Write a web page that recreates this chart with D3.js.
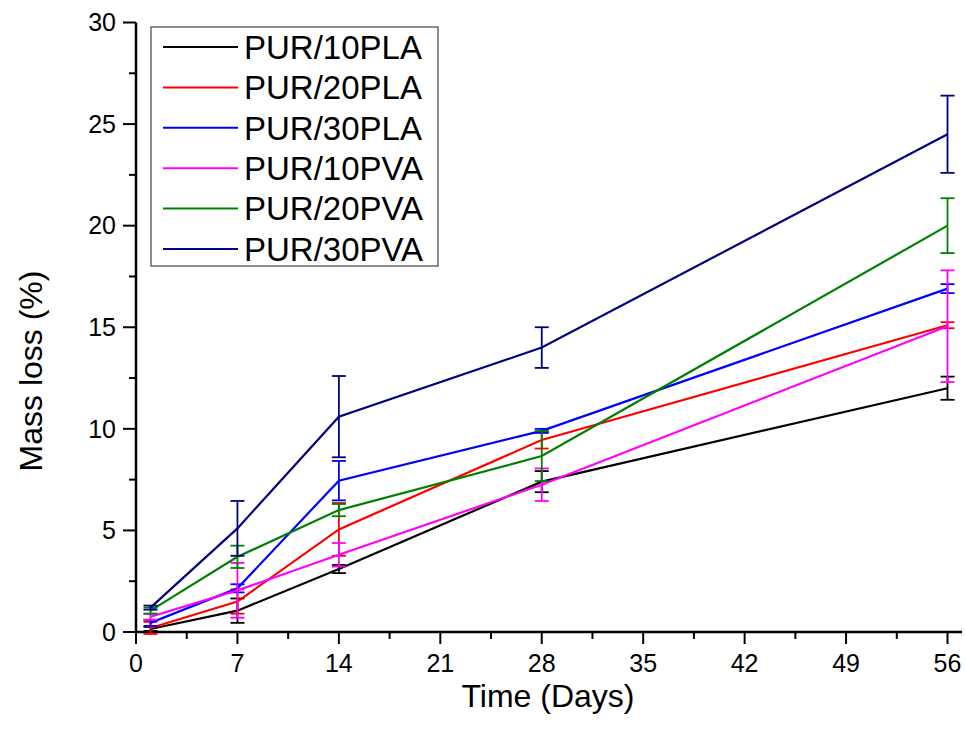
<!DOCTYPE html>
<html>
<head>
<meta charset="utf-8">
<script src="https://cdn.jsdelivr.net/npm/d3@7"></script>
<style>
  html, body { margin: 0; padding: 0; background: #fff; }
  svg { display: block; font-family: "Liberation Sans", Arial, sans-serif; }
</style>
</head>
<body>
<svg id="chart" width="965" height="736"></svg>
<script>
// Sampling days
const days = [1, 7, 14, 28, 56];

// Series names and colours
const seriesNames = ["PUR/10PLA", "PUR/20PLA", "PUR/30PLA", "PUR/10PVA", "PUR/20PVA", "PUR/30PVA"];
const seriesColors = ["#000000", "#ff0000", "#0000ff", "#ff00ff", "#008000", "#000080"];

// Mean mass loss (%) per series
const pur10pla = [0.15, 1.05, 3.1, 7.4, 12.0];
const pur20pla = [0.2, 1.5, 5.05, 9.45, 15.1];
const pur30pla = [0.45, 2.15, 7.45, 9.9, 16.9];
const pur10pva = [0.75, 2.05, 3.8, 7.25, 15.05];
const pur20pva = [1.05, 3.7, 6.0, 8.66, 20.0];
const pur30pva = [1.2, 5.1, 10.6, 14.0, 24.5];

// Standard deviations
const pur10plaErr = [0.1, 0.6, 0.2, 0.52, 0.57];
const pur20plaErr = [0.3, 0.6, 1.3, 0.42, 0.15];
const pur30plaErr = [0.15, 0.2, 0.97, 0.1, 0.22];
const pur10pvaErr = [0.15, 1.35, 0.58, 0.8, 2.75];
const pur20pvaErr = [0.15, 0.55, 0.3, 1.23, 1.35];
const pur30pvaErr = [0.1, 1.35, 2.0, 1.0, 1.9];

// Axis ticks
const xTicks = [0, 7, 14, 21, 28, 35, 42, 49, 56];
const yTicks = [0, 5, 10, 15, 20, 25, 30];

const means = [pur10pla, pur20pla, pur30pla, pur10pva, pur20pva, pur30pva];
const errs = [pur10plaErr, pur20plaErr, pur30plaErr, pur10pvaErr, pur20pvaErr, pur30pvaErr];

const series = seriesNames.map((name, i) => ({
  name,
  color: seriesColors[i],
  points: days.map((d, j) => ({ day: d, v: means[i][j], e: errs[i][j] }))
}));

const svg = d3.select("#chart");
const plotLeft = 136, plotRight = 962, plotTop = 22.5, plotBottom = 632;

const x = d3.scaleLinear().domain([0, 57]).range([plotLeft, plotRight]);
const y = d3.scaleLinear().domain([0, 30]).range([plotBottom, plotTop]);

// Axes (major + minor ticks)
const axisG = svg.append("g");

const xAxis = axisG.append("g").attr("transform", `translate(0,${plotBottom})`);
xAxis.append("line").attr("x1", plotLeft - 1).attr("x2", plotRight).attr("stroke", "#000").attr("stroke-width", 2.5);
const xMinor = d3.range(3.5, 57, 7);
xAxis.selectAll(".xminor").data(xMinor).join("line")
  .attr("x1", d => x(d)).attr("x2", d => x(d)).attr("y1", 0).attr("y2", 7)
  .attr("stroke", "#000").attr("stroke-width", 2);
xAxis.selectAll(".xmajor").data(xTicks).join("line")
  .attr("x1", d => x(d)).attr("x2", d => x(d)).attr("y1", 0).attr("y2", 12)
  .attr("stroke", "#000").attr("stroke-width", 2);
xAxis.selectAll(".xlab").data(xTicks).join("text")
  .attr("x", d => x(d)).attr("y", 40).attr("text-anchor", "middle")
  .attr("font-size", 25).text(d => d);

const yAxis = axisG.append("g").attr("transform", `translate(${plotLeft},0)`);
yAxis.append("line").attr("y1", plotTop).attr("y2", plotBottom + 1).attr("stroke", "#000").attr("stroke-width", 2.5);
const yMinor = d3.range(2.5, 30, 5);
yAxis.selectAll(".yminor").data(yMinor).join("line")
  .attr("x1", -7).attr("x2", 0).attr("y1", d => y(d)).attr("y2", d => y(d))
  .attr("stroke", "#000").attr("stroke-width", 2);
yAxis.selectAll(".ymajor").data(yTicks).join("line")
  .attr("x1", -13).attr("x2", 0).attr("y1", d => y(d)).attr("y2", d => y(d))
  .attr("stroke", "#000").attr("stroke-width", 2);
yAxis.selectAll(".ylab").data(yTicks).join("text")
  .attr("x", -20).attr("y", d => y(d)).attr("dy", "0.35em").attr("text-anchor", "end")
  .attr("font-size", 25).text(d => d);

// Axis titles
svg.append("text").attr("x", 548).attr("y", 707).attr("text-anchor", "middle")
  .attr("font-size", 32).text("Time (Days)");
svg.append("text").attr("transform", `translate(42,371) rotate(-90)`)
  .attr("text-anchor", "middle").attr("font-size", 32).text("Mass loss (%)");

// Lines and error bars
const line = d3.line().x(d => x(d.day)).y(d => y(d.v));
const capW = 7;
const plot = svg.append("g");
series.forEach(s => {
  const g = plot.append("g");
  g.append("path").datum(s.points).attr("d", line)
    .attr("fill", "none").attr("stroke", s.color).attr("stroke-width", 2.2);
  const eb = g.selectAll(".eb").data(s.points).join("g");
  eb.append("line")
    .attr("x1", d => x(d.day)).attr("x2", d => x(d.day))
    .attr("y1", d => y(d.v - d.e)).attr("y2", d => y(d.v + d.e))
    .attr("stroke", s.color).attr("stroke-width", 1.8);
  eb.append("line")
    .attr("x1", d => x(d.day) - capW).attr("x2", d => x(d.day) + capW)
    .attr("y1", d => y(d.v - d.e)).attr("y2", d => y(d.v - d.e))
    .attr("stroke", s.color).attr("stroke-width", 1.8);
  eb.append("line")
    .attr("x1", d => x(d.day) - capW).attr("x2", d => x(d.day) + capW)
    .attr("y1", d => y(d.v + d.e)).attr("y2", d => y(d.v + d.e))
    .attr("stroke", s.color).attr("stroke-width", 1.8);
});

// Legend
const legend = svg.append("g");
legend.append("rect").attr("x", 151).attr("y", 27).attr("width", 287).attr("height", 239)
  .attr("fill", "#fff").attr("stroke", "#444").attr("stroke-width", 1.2);
const rowY = i => 47 + i * 40.4;
legend.selectAll(".li").data(series).join("line")
  .attr("x1", 163).attr("x2", 238).attr("y1", (d, i) => rowY(i)).attr("y2", (d, i) => rowY(i))
  .attr("stroke", d => d.color).attr("stroke-width", 2);
legend.selectAll(".lt").data(series).join("text")
  .attr("x", 244).attr("y", (d, i) => rowY(i)).attr("dy", "0.36em")
  .attr("font-size", 33).text(d => d.name);
</script>
</body>
</html>
